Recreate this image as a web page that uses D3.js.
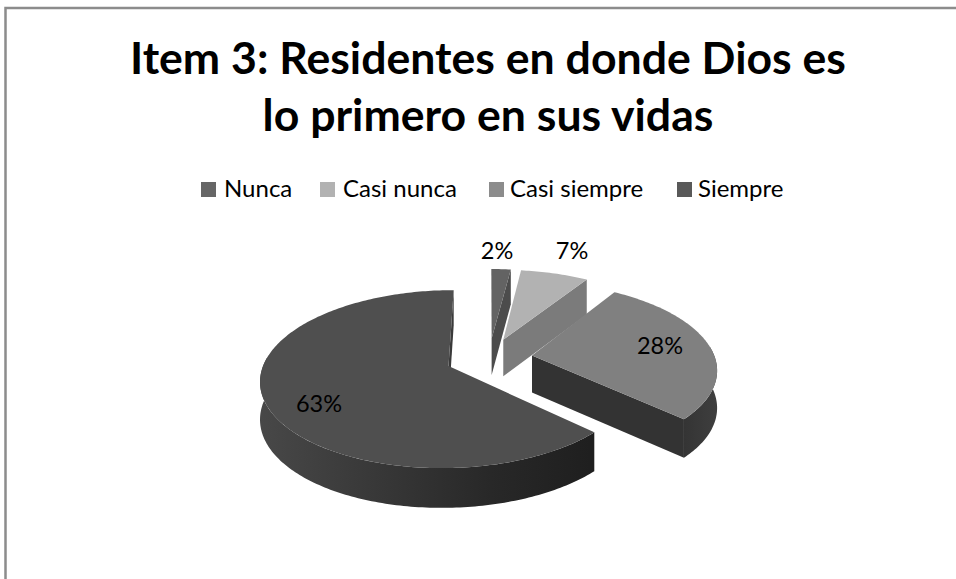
<!DOCTYPE html>
<html lang="en">

<head>
  <meta charset="UTF-8" />
  <title>Item 3</title>
  <script src="https://d3js.org/d3.v7.min.js"></script>
  <style>
    body { margin: 0; background: #fff; }
    text { font-family: Lato, "Open Sans", sans-serif; fill: #000; }
  </style>
</head>

<body>
  <div id="chart"></div>

  <script>
    // data
    var categories = ["Nunca", "Casi nunca", "Casi siempre", "Siempre"];
    var values = [2, 7, 28, 63];
    var titleLines = ["Item 3: Residentes en donde Dios es", "lo primero en sus vidas"];

    // greys
    var topColors = ["#636363", "#b2b2b2", "#808080", "#4f4f4f"];
    var faceColors = ["#4c4c4c", "#7b7b7b", "#333333", "#3a3a3a"];
    var legendColors = ["#666666", "#b2b2b2", "#8c8c8c", "#595959"];

    var w = 956;
    var h = 579;

    // fake 3d: ground plane seen in perspective
    var cx = 489, cy = 358;
    var radius = 183, explode = 43.5, depth = 37;
    var tilt = 0.463, viewDist = 1270;

    var legendX = [201, 320, 489, 677];
    var labelPos = [[497, 259], [572, 259], [660, 354], [319, 412]];

    var svg = d3.select("#chart").append("svg")
      .attr("width", w)
      .attr("height", h)
      .style("display", "block");

    // wall gradients, darker to the right
    var defs = svg.append("defs");
    var wallStops = [
      ["wall3", 259, 590, [[0, "#484848"], [0.35, "#383838"], [0.7, "#282828"], [1, "#1f1f1f"]]],
      ["wall2", 680, 716, [[0, "#333333"], [1, "#3e3e3e"]]]
    ];
    wallStops.forEach(function(g) {
      defs.append("linearGradient")
        .attr("id", g[0])
        .attr("gradientUnits", "userSpaceOnUse")
        .attr("x1", g[1])
        .attr("x2", g[2])
        .attr("y1", 0)
        .attr("y2", 0)
        .selectAll("stop")
        .data(g[3])
        .enter()
        .append("stop")
        .attr("offset", function(d) { return d[0]; })
        .attr("stop-color", function(d) { return d[1]; });
    });

    // frame
    svg.append("path")
      .attr("d", "M5.5," + h + "V8H" + w)
      .attr("fill", "none")
      .attr("stroke", "#8c8c8c")
      .attr("stroke-width", 2.5);

    svg.selectAll("text.title")
      .data(titleLines)
      .enter()
      .append("text")
      .attr("class", "title")
      .attr("x", 488)
      .attr("y", function(d, i) { return 74 + i * 57; })
      .attr("text-anchor", "middle")
      .style("font-size", "44.6px")
      .style("font-weight", "bold")
      .text(function(d) { return d; });

    var legend = svg.selectAll("g.legend")
      .data(categories)
      .enter()
      .append("g")
      .attr("class", "legend")
      .attr("transform", function(d, i) { return "translate(" + legendX[i] + ",182)"; });

    legend.append("rect")
      .attr("width", 15)
      .attr("height", 15)
      .attr("fill", function(d, i) { return legendColors[i]; });

    legend.append("text")
      .attr("x", function(d, i) { return i == 0 || i == 1 ? 23 : 21; })
      .attr("y", 15)
      .style("font-size", "24px")
      .text(function(d) { return d; });

    // ground point -> screen
    function project(X, Z, drop) {
      var s = viewDist / (viewDist - Z);
      return [cx + X * s, cy + Z * tilt * s + (drop || 0) * (1 + 0.4 * (s - 1))];
    }

    var pie = d3.pie().sort(null);
    var arcs = pie(values);

    function rimPoint(d, a, drop) {
      var mid = (d.startAngle + d.endAngle) / 2;
      return project(
        explode * Math.sin(mid) + radius * Math.sin(a),
        -explode * Math.cos(mid) - radius * Math.cos(a),
        drop);
    }

    function apexPoint(d, drop) {
      var mid = (d.startAngle + d.endAngle) / 2;
      return project(explode * Math.sin(mid), -explode * Math.cos(mid), drop);
    }

    var line = d3.line();

    function sampleAngles(a0, a1) {
      var n = Math.max(2, Math.ceil((a1 - a0) / (Math.PI / 180)));
      return d3.range(n + 1).map(function(i) { return a0 + (a1 - a0) * i / n; });
    }

    var slices = svg.selectAll("g.slice")
      .data(arcs)
      .enter()
      .append("g")
      .attr("class", "slice");

    // end cut, seen only where the slice opens towards us
    slices.append("path")
      .attr("d", function(d) {
        return line([apexPoint(d), rimPoint(d, d.endAngle), rimPoint(d, d.endAngle, depth), apexPoint(d, depth)]) + "Z";
      })
      .attr("fill", function(d, i) { return faceColors[i]; });

    // outer wall, front part only
    slices.append("path")
      .attr("d", function(d) {
        var lo = Math.max(d.startAngle, 84 * Math.PI / 180);
        var hi = Math.min(d.endAngle, 276 * Math.PI / 180);
        if (hi <= lo) return null;
        var a = sampleAngles(lo, hi);
        var upper = a.map(function(v) { return rimPoint(d, v); });
        var lower = a.slice().reverse().map(function(v) { return rimPoint(d, v, depth); });
        return line(upper.concat(lower)) + "Z";
      })
      .attr("fill", function(d, i) { return "url(#wall" + i + ")"; });

    // top face
    slices.append("path")
      .attr("d", function(d) {
        var pts = sampleAngles(d.startAngle, d.endAngle).map(function(a) { return rimPoint(d, a); });
        return line([apexPoint(d)].concat(pts)) + "Z";
      })
      .attr("fill", function(d, i) { return topColors[i]; });

    svg.selectAll("text.pct")
      .data(values)
      .enter()
      .append("text")
      .attr("class", "pct")
      .attr("x", function(d, i) { return labelPos[i][0]; })
      .attr("y", function(d, i) { return labelPos[i][1]; })
      .attr("text-anchor", "middle")
      .style("font-size", "23.5px")
      .text(function(d) { return d + "%"; });
  </script>

</body>

</html>
